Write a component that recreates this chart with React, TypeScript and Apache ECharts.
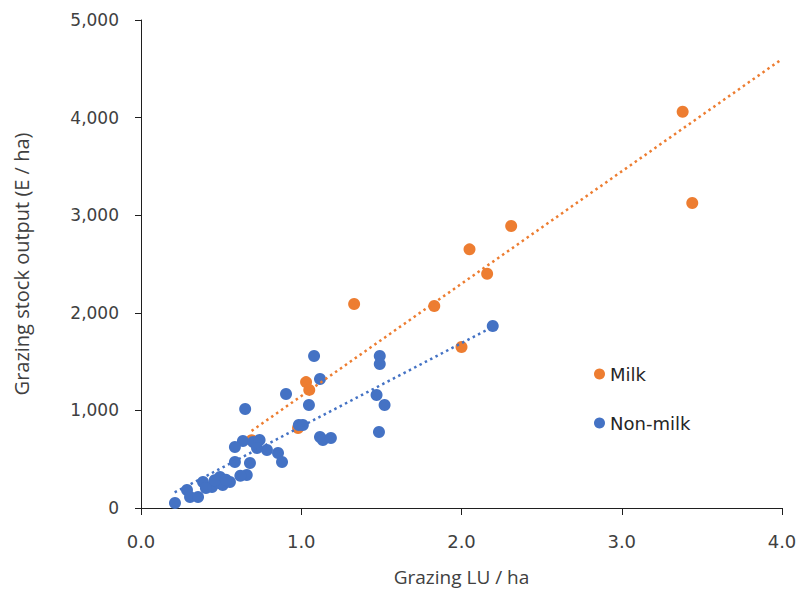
import React, { useEffect, useRef } from "react";
import * as echarts from "echarts";

// Milk farms (orange)
const milkX = [3.38, 3.44, 2.31, 2.05, 2.16, 1.33, 1.83, 2.0, 1.03, 1.05, 0.98, 0.69];
const milkY = [4060, 3125, 2890, 2650, 2400, 2090, 2070, 1650, 1290, 1210, 820, 695];

// Non-milk farms (blue)
const nonMilkX = [
  2.195, 1.49, 1.49, 1.08, 1.117, 0.905, 0.65, 1.048, 1.47, 1.52, 1.485, 0.985, 1.01,
  1.117, 1.135, 1.185, 0.636, 0.7, 0.74, 0.586, 0.724, 0.786, 0.855, 0.88, 0.586, 0.68,
  0.66, 0.493, 0.387, 0.443, 0.51, 0.555, 0.287, 0.306, 0.356, 0.212, 0.487, 0.405, 0.62,
  0.46, 0.53,
];
const nonMilkY = [
  1865, 1557, 1475, 1557, 1322, 1168, 1014, 1055, 1158, 1055, 779, 850, 850,
  727, 697, 717, 686, 676, 697, 625, 615, 594, 564, 471, 471, 461,
  338, 318, 266, 215, 236, 266, 184, 113, 113, 51, 256, 205, 330,
  285, 290,
];

// Linear trend lines (end points)
const milkTrendX = [0.69, 4.0];
const milkTrendY = [790, 4600];
const nonMilkTrendX = [0.21, 2.2];
const nonMilkTrendY = [160, 1860];

const xTicks = { min: 0, max: 4, interval: 1 };
const yTicks = { min: 0, max: 5000, interval: 1000 };

const seriesNames = ["Milk", "Non-milk"];
const colors = ["#ED7D31", "#4472C4"];

const pairs = (xs: number[], ys: number[]) => xs.map((x, i) => [x, ys[i]]);
const thousands = (v: number) => String(v).replace(/\B(?=(\d{3})+(?!\d))/g, ",");

export default function App() {
  const ref = useRef<HTMLDivElement>(null);
  useEffect(() => {
    if (!ref.current) return;
    const chart = echarts.init(ref.current, undefined, { renderer: "svg" });
    const axisColor = "#1f1f1f";
    const textColor = "#404040";
    chart.setOption({
      animation: false,
      backgroundColor: "#ffffff",
      grid: { left: 141, right: 20, top: 20, bottom: 84, containLabel: false },
      legend: {
        data: seriesNames,
        orient: "vertical",
        left: 589,
        top: 359,
        itemGap: 29,
        itemWidth: 11,
        itemHeight: 11,
        icon: "circle",
        textStyle: { fontSize: 18, color: "#262626", fontFamily: "DejaVu Sans", lineHeight: 20 },
      },
      xAxis: {
        type: "value",
        ...xTicks,
        name: "Grazing LU / ha",
        nameLocation: "middle",
        nameGap: 59,
        nameTextStyle: { fontSize: 19, color: textColor, fontFamily: "Open Sans" },
        axisLine: { show: true, onZero: false, lineStyle: { color: axisColor, width: 1 } },
        axisTick: { show: true, inside: false, length: 7, lineStyle: { color: axisColor } },
        splitLine: { show: false },
        axisLabel: {
          formatter: (v: number) => v.toFixed(1),
          fontSize: 18,
          color: textColor,
          fontFamily: "DejaVu Sans",
          margin: 24,
        },
      },
      yAxis: {
        type: "value",
        ...yTicks,
        name: "Grazing stock output (E / ha)",
        nameLocation: "middle",
        nameGap: 110,
        nameTextStyle: { fontSize: 20, color: textColor, fontFamily: "Open Sans" },
        axisLine: { show: true, onZero: false, lineStyle: { color: axisColor, width: 1 } },
        axisTick: { show: true, inside: false, length: 6, lineStyle: { color: axisColor } },
        splitLine: { show: false },
        axisLabel: {
          formatter: (v: number) => thousands(v),
          fontSize: 17,
          color: textColor,
          fontFamily: "DejaVu Sans",
          margin: 22,
        },
      },
      series: [
        {
          name: seriesNames[0],
          type: "scatter",
          data: pairs(milkX, milkY),
          symbolSize: 12,
          itemStyle: { color: colors[0], opacity: 1 },
          z: 2,
        },
        {
          name: seriesNames[1],
          type: "scatter",
          data: pairs(nonMilkX, nonMilkY),
          symbolSize: 12,
          itemStyle: { color: colors[1], opacity: 1 },
          z: 3,
        },
        {
          name: "Milk trend",
          type: "line",
          data: pairs(milkTrendX, milkTrendY),
          showSymbol: false,
          silent: true,
          lineStyle: { color: colors[0], width: 2.5, type: [2.5, 3.5] },
          z: 4,
        },
        {
          name: "Non-milk trend",
          type: "line",
          data: pairs(nonMilkTrendX, nonMilkTrendY),
          showSymbol: false,
          silent: true,
          lineStyle: { color: colors[1], width: 2.5, type: [2.5, 3.5] },
          z: 4,
        },
      ],
    });
    return () => chart.dispose();
  }, []);
  return (
    <div
      ref={ref}
      style={{ position: "fixed", left: 0, top: 0, width: 802, height: 592, background: "#fff" }}
    />
  );
}
